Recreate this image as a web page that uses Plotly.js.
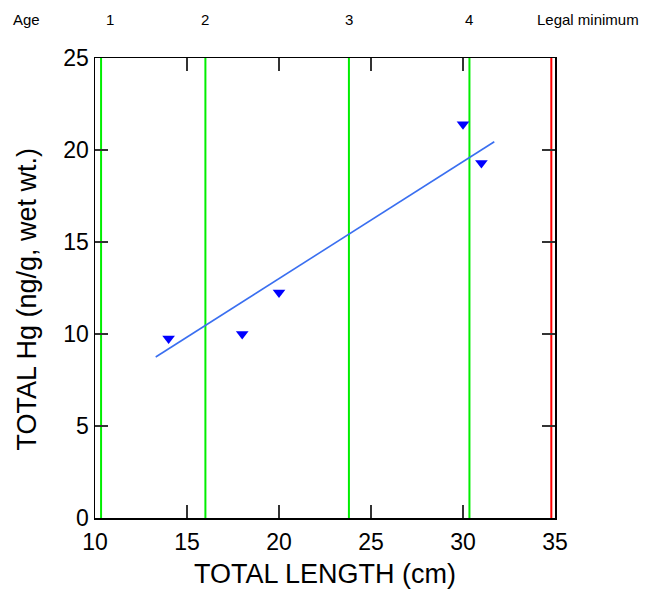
<!DOCTYPE html>
<html><head><meta charset="utf-8">
<script src="https://cdn.plot.ly/plotly-3.0.1.min.js"></script>
<style>body{margin:0;padding:0;background:#fff}#chart{width:647px;height:589px}</style>
</head><body><div id="chart"></div>
<script>
const lengthCm = [14, 18, 20, 30, 31];
const totalHg = [9.75, 10.0, 12.25, 21.4, 19.3];
const fitX = [13.3, 31.7];
const fitY = [8.75, 20.45];
const ageLineX = [10.33, 16.0, 23.8, 30.35];
const legalMinX = 34.8;
const ageLabels = ['Age', '1', '2', '3', '4', 'Legal minimum'];
const ageLabelX = [6.25, 10.83, 16.0, 23.8, 30.3, 36.8];
const xRange = [10, 35];
const xTitle = 'TOTAL LENGTH (cm)';
const yTitle = 'TOTAL Hg (ng/g, wet wt.)';

const traces = [];
ageLineX.forEach(x => traces.push({x:[x,x], y:[0,25], mode:'lines', line:{color:'#00ee00', width:2}, hoverinfo:'skip', showlegend:false}));
traces.push({x:[legalMinX,legalMinX], y:[0,25], mode:'lines', line:{color:'#ff0000', width:2}, hoverinfo:'skip', showlegend:false});
traces.push({x:fitX, y:fitY, mode:'lines', line:{color:'#3a6ff0', width:1.6}, showlegend:false});
traces.push({x:lengthCm, y:totalHg, mode:'markers', marker:{symbol:'triangle-down', size:11, color:'#0000ff'}, showlegend:false});

const fam = 'Liberation Sans, Arial';
const annotations = ageLabels.map((t,i)=>({text:t, x:(ageLabelX[i]-xRange[0])/(xRange[1]-xRange[0]), xref:'paper', y:1.083, yref:'paper', showarrow:false, xanchor:'center', yanchor:'middle', font:{size:15, color:'#000', family:fam}}));
annotations.push({text:xTitle, x:0.5, xref:'paper', y:-0.121, yref:'paper', showarrow:false, xanchor:'center', yanchor:'middle', font:{size:27, color:'#000', family:fam}});
annotations.push({text:yTitle, x:-0.15, xref:'paper', y:0.475, yref:'paper', showarrow:false, xanchor:'center', yanchor:'middle', textangle:-90, font:{size:27, color:'#000', family:fam}});

const axisCommon = {showline:true, linecolor:'#000', linewidth:1.5, mirror:'allticks', ticks:'inside', ticklen:13, tickcolor:'#333', tickwidth:1.3, showgrid:false, zeroline:false, tickfont:{size:23, color:'#000', family:fam}};

const layout = {
  width:647, height:589,
  margin:{l:95, r:92, t:58, b:71},
  paper_bgcolor:'#fff', plot_bgcolor:'#fff',
  font:{family:fam, color:'#000'},
  xaxis: Object.assign({}, axisCommon, {range:xRange, dtick:5, tick0:10, ticklabelstandoff:3}),
  yaxis: Object.assign({}, axisCommon, {range:[0,25], dtick:5, tick0:0}),
  annotations: annotations
};
Plotly.newPlot('chart', traces, layout, {displayModeBar:false, staticPlot:true});
</script></body></html>
